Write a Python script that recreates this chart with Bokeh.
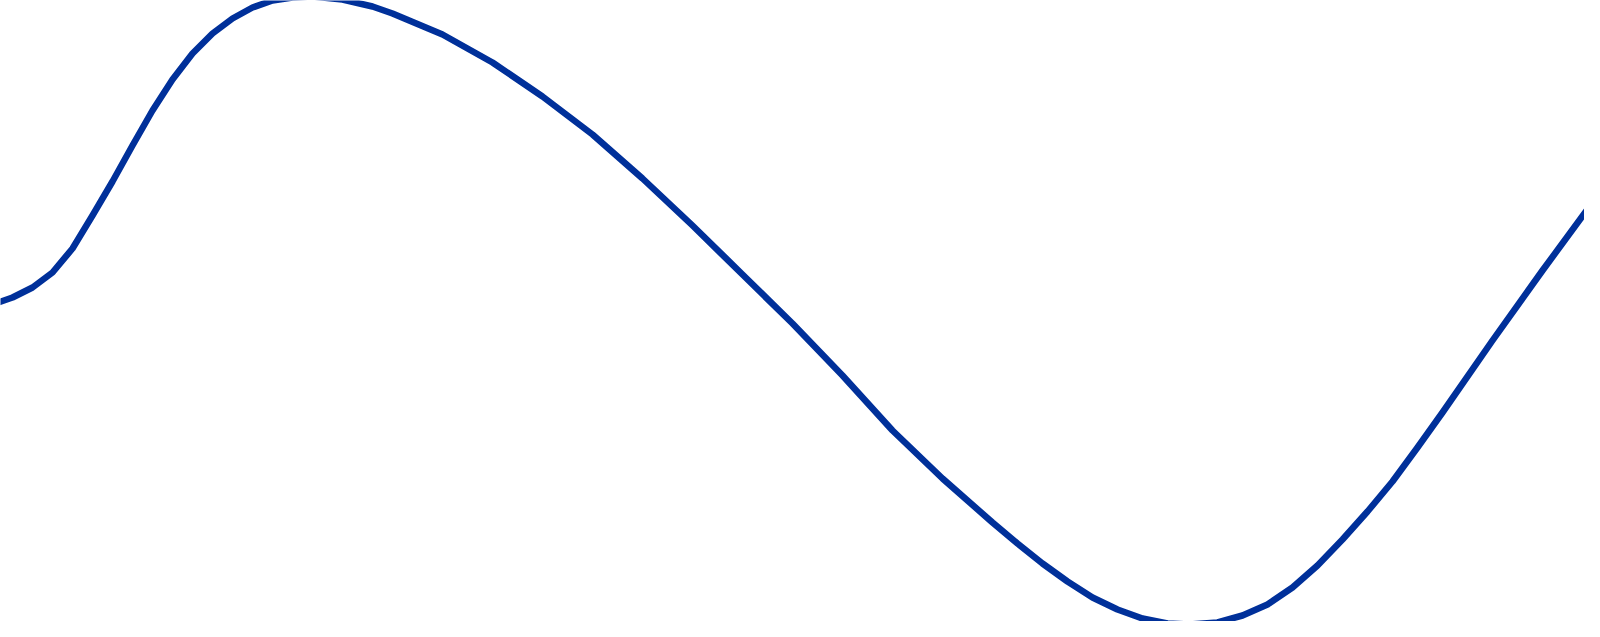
from bokeh.plotting import figure
from bokeh.models import Range1d
from bokeh.embed import file_html
from bokeh.resources import INLINE

x_vals = [0, 20, 40, 60, 80, 100, 120, 140, 160, 180, 200, 220, 240, 260, 280, 300, 320,
          350, 380, 400, 450, 500, 550, 600, 650, 700, 750, 800, 850, 900, 950, 1000,
          1025, 1050, 1075, 1100, 1125, 1150, 1175, 1197, 1225, 1250, 1275, 1300, 1325,
          1350, 1375, 1400, 1425, 1450, 1500, 1550, 1600]
y_top = [312, 305, 295, 280, 256, 223, 189, 153, 118, 87, 61, 41, 26, 15, 8, 5, 4,
         7, 14, 21, 42, 70, 104, 142, 186, 233, 282, 331, 383, 438, 486, 530,
         551, 571, 589, 605, 617, 626, 631, 632, 630, 623, 612, 595, 573,
         547, 519, 489, 455, 420, 348, 278, 210]
FRAME_H = 637
y_vals = [FRAME_H - v for v in y_top]

p = figure(width=1584, height=621, output_backend="svg", toolbar_location=None,
           x_range=Range1d(8, 1592), y_range=Range1d(FRAME_H - 629, FRAME_H - 8),
           min_border=0, outline_line_color=None)
p.axis.visible = False
p.grid.visible = False
p.background_fill_color = "white"
p.border_fill_color = "white"

p.line(x_vals, y_vals, line_color="#00309A", line_width=6.5, line_join="round", line_cap="round")

open("out.html", "w").write(file_html(p, INLINE))
